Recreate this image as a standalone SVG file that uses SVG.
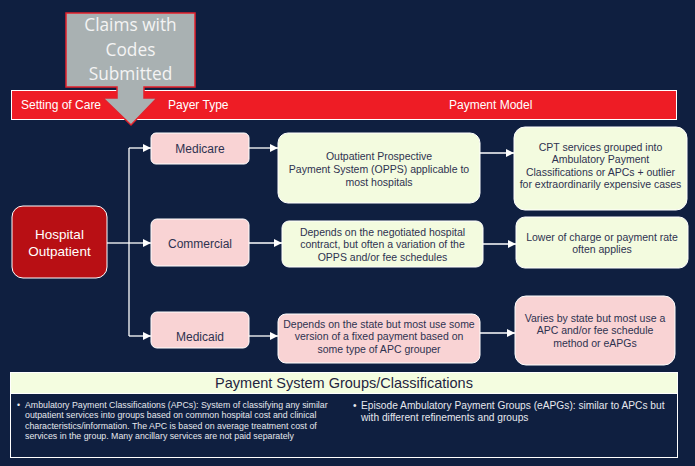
<svg xmlns="http://www.w3.org/2000/svg" width="695" height="466" viewBox="0 0 695 466">
<defs>
<marker id="ah" viewBox="0 0 10 10" refX="10" refY="5" markerWidth="10" markerHeight="8" markerUnits="userSpaceOnUse" orient="auto">
<path d="M0,0 L10,5 L0,10 Z" fill="#ffffff"/>
</marker>
<style>
text{font-family:"Liberation Sans",Arial,sans-serif}
.hdr{fill:#ffffff;font-size:12px}
.pink{fill:#f9d3d4;stroke:#ffffff;stroke-width:1}
.lime{fill:#f3fbdf;stroke:#ffffff;stroke-width:1}
.payer{fill:#2e3250;font-size:12px;text-anchor:middle}
.body{fill:#2e3250;font-size:10.5px;text-anchor:middle}
.conn{stroke:#ffffff;stroke-width:1.3;fill:none}
.note{fill:#e6e8ee;font-size:8.8px}
.note2{fill:#e6e8ee;font-size:10.2px}
.claim{fill:#f4f4f4;font-size:17.3px;text-anchor:middle;font-family:"Open Sans","Liberation Sans",sans-serif}
</style>
</defs>
<rect x="0" y="0" width="695" height="466" fill="#0f1f40"/>

<g id="header">
<rect x="11.5" y="90.5" width="665" height="29" fill="#ee1c25" stroke="#ffffff" stroke-width="1"/>
<text class="hdr" x="21" y="109">Setting of Care</text>
<text class="hdr" x="168" y="109">Payer Type</text>
<text class="hdr" x="449" y="109">Payment Model</text>
</g>

<g id="claims">
<path d="M66,13 H195 V87 H144 V98 H157 L131,125 L103,98 H117 V87 H66 Z" fill="#a9b1b2" stroke="#e3212b" stroke-width="1.5"/>
<text class="claim" x="130.5" y="31">Claims with</text>
<text class="claim" x="130.5" y="55.5">Codes</text>
<text class="claim" x="130.5" y="80">Submitted</text>
</g>

<g id="connectors">
<path class="conn" d="M107,243 H129"/>
<path class="conn" d="M129,148 V336"/>
<path class="conn" d="M129,148 H151" marker-end="url(#ah)"/>
<path class="conn" d="M129,243 H151" marker-end="url(#ah)"/>
<path class="conn" d="M129,336 H151" marker-end="url(#ah)"/>
<path class="conn" d="M249,148 H278" marker-end="url(#ah)"/>
<path class="conn" d="M249,243 H282" marker-end="url(#ah)"/>
<path class="conn" d="M249,336 H278" marker-end="url(#ah)"/>
<path class="conn" d="M480,153 H514" marker-end="url(#ah)"/>
<path class="conn" d="M483,244 H516" marker-end="url(#ah)"/>
<path class="conn" d="M473,333 H515" marker-end="url(#ah)"/>
</g>

<g id="hospital">
<rect x="12" y="206" width="95" height="72" rx="11" fill="#b80f14" stroke="#ffffff" stroke-width="1"/>
<text x="59.5" y="239" fill="#ffffff" font-size="13.5" text-anchor="middle">Hospital</text>
<text x="59.5" y="255.5" fill="#ffffff" font-size="13.5" text-anchor="middle">Outpatient</text>
</g>

<g id="medicare">
<rect class="pink" x="151" y="133" width="98" height="31" rx="5"/>
<text class="payer" x="200" y="152.5">Medicare</text>
</g>
<g id="commercial">
<rect class="pink" x="151" y="219" width="98" height="47" rx="6"/>
<text class="payer" x="200" y="247.5">Commercial</text>
</g>
<g id="medicaid">
<rect class="pink" x="151" y="312" width="98" height="36" rx="6"/>
<text class="payer" x="200" y="340.5">Medicaid</text>
</g>

<g id="opps">
<rect class="lime" x="278" y="133" width="202" height="70" rx="10"/>
<text class="body" x="379" y="159.5">Outpatient Prospective</text>
<text class="body" x="379" y="172.5">Payment System (OPPS) applicable to</text>
<text class="body" x="379" y="185.5">most hospitals</text>
</g>
<g id="cpt">
<rect class="lime" x="514" y="127" width="173" height="83" rx="11"/>
<text class="body" x="600.5" y="150.5">CPT services grouped into</text>
<text class="body" x="600.5" y="163">Ambulatory Payment</text>
<text class="body" x="600.5" y="175.5">Classifications or APCs + outlier</text>
<text class="body" x="600.5" y="188">for extraordinarily expensive cases</text>
</g>
<g id="negotiated">
<rect class="lime" x="282" y="221" width="201" height="46" rx="7"/>
<text class="body" x="382.5" y="235.5">Depends on the negotiated hospital</text>
<text class="body" x="382.5" y="248">contract, but often a variation of the</text>
<text class="body" x="382.5" y="260.5">OPPS and/or fee schedules</text>
</g>
<g id="lower">
<rect class="lime" x="516" y="217" width="172" height="51" rx="9"/>
<text class="body" x="602" y="240.5">Lower of charge or payment rate</text>
<text class="body" x="602" y="252.5">often applies</text>
</g>
<g id="state">
<rect class="pink" x="278" y="314" width="202" height="49" rx="8"/>
<text class="body" x="379" y="327.5">Depends on the state but most use some</text>
<text class="body" x="379" y="340">version of a fixed payment based on</text>
<text class="body" x="379" y="352.5">some type of APC grouper</text>
</g>
<g id="varies">
<rect class="pink" x="515" y="296" width="160" height="69" rx="11"/>
<text class="body" x="595" y="321.5">Varies by state but most use a</text>
<text class="body" x="595" y="334">APC and/or fee schedule</text>
<text class="body" x="595" y="346.5">method or eAPGs</text>
</g>

<g id="groups">
<rect x="10.5" y="372.5" width="667" height="85" fill="#0f1f40" stroke="#ffffff" stroke-width="1"/>
<rect x="10.5" y="372.5" width="667" height="21" fill="#f4fde0" stroke="#ffffff" stroke-width="1"/>
<text x="344" y="387.5" fill="#1f2440" font-size="14.5" text-anchor="middle">Payment System Groups/Classifications</text>
<text class="note" x="17" y="407.5">•</text>
<text class="note" x="25" y="407.5">Ambulatory Payment Classifications (APCs): System of classifying any similar</text>
<text class="note" x="25" y="418">outpatient services into groups based on common hospital cost and clinical</text>
<text class="note" x="25" y="428.5">characteristics/information. The APC is based on average treatment cost of</text>
<text class="note" x="25" y="439">services in the group. Many ancillary services are not paid separately</text>
<text class="note2" x="353" y="409">•</text>
<text class="note2" x="361" y="409">Episode Ambulatory Payment Groups (eAPGs): similar to APCs but</text>
<text class="note2" x="361" y="421">with different refinements and groups</text>
</g>
</svg>
